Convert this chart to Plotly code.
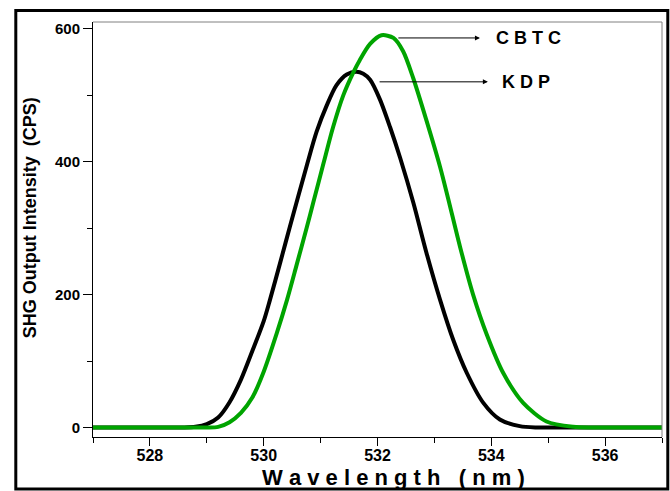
import plotly.graph_objects as go

# ---- data ----
kdp_x = [527.0, 528.0, 528.6, 528.8, 529.0, 529.2, 529.4, 529.6, 529.8, 530.0,
         530.11, 530.29, 530.46, 530.76, 530.93, 531.11, 531.28, 531.46, 531.63, 531.75,
         531.87, 532.04, 532.22, 532.40, 532.63, 532.86, 533.10, 533.33, 533.57, 533.86,
         534.15, 534.50, 534.8, 535.2, 537.0]
kdp_y = [0, 0, 0, 1, 5, 15, 38, 72, 115, 160,
         192, 248, 302, 395, 445, 485, 515, 531, 535, 532,
         523, 494, 452, 405, 338, 263, 192, 132, 82, 37,
         12, 2, 0, 0, 0]

cbtc_x = [527.0, 528.5, 529.0, 529.2, 529.4, 529.6, 529.8, 530.0, 530.23, 530.41,
          530.58, 530.76, 530.87, 531.05, 531.22, 531.40, 531.58, 531.69, 531.87, 532.07,
          532.28, 532.45, 532.63, 532.86, 533.10, 533.24, 533.45, 533.68, 533.92, 534.21,
          534.56, 534.97, 535.44, 535.8, 537.0]
cbtc_y = [0, 0, 0, 1, 8, 22, 45, 84, 142, 192,
          245, 302, 338, 397, 452, 500, 535, 553, 577, 590,
          586, 566, 525, 462, 392, 345, 272, 200, 140, 82,
          37, 9, 1, 0, 0]

x_ticks = [528, 530, 532, 534, 536]
y_ticks = [0, 200, 400, 600]

FONT = "Liberation Sans, Arial, sans-serif"
W, H = 670, 491
L, R, T, B = 92.7, 661.7, 22, 437   # plot area in pixels

def px(xp):
    return (xp - L) / (R - L)

def py(yp):
    return (B - yp) / (B - T)

fig = go.Figure()
fig.add_trace(go.Scatter(x=kdp_x, y=kdp_y, mode="lines", name="KDP",
                         line=dict(color="#000000", width=4, shape="spline", smoothing=0.8)))
fig.add_trace(go.Scatter(x=cbtc_x, y=cbtc_y, mode="lines", name="CBTC",
                         line=dict(color="#00a400", width=4, shape="spline", smoothing=0.8)))

fig.update_xaxes(range=[527, 537], tickvals=x_ticks, ticks="outside", ticklen=8, tickwidth=1,
                 tickcolor="black", showline=True, linecolor="black", linewidth=1,
                 showgrid=False, zeroline=False, ticklabelstandoff=-4,
                 tickfont=dict(family=FONT, size=16, color="black", weight="bold"),
                 minor=dict(tickvals=[527, 529, 531, 533, 535, 537], ticks="outside",
                            ticklen=5, tickcolor="black", showgrid=False))
fig.update_yaxes(range=[-14.3, 610], tickvals=y_ticks, ticks="outside", ticklen=9, tickwidth=1,
                 tickcolor="black", showline=True, linecolor="black", linewidth=1,
                 showgrid=False, zeroline=False,
                 tickfont=dict(family=FONT, size=15, color="black", weight="bold"),
                 minor=dict(tickvals=[100, 300, 500], ticks="outside", ticklen=5,
                            tickcolor="black", showgrid=False))

shapes = [
    dict(type="line", xref="paper", yref="paper", x0=0, x1=1, y0=1, y1=1,
         line=dict(color="#808080", width=1)),
    dict(type="line", xref="paper", yref="paper", x0=1, x1=1, y0=0, y1=1,
         line=dict(color="#808080", width=1)),
    dict(type="rect", xref="paper", yref="paper", x0=px(15.5), x1=px(667.5), y0=py(10.5), y1=py(489),
         line=dict(color="black", width=3)),
]

bold = dict(family=FONT, size=18, color="black", weight="bold")
annotations = [
    dict(x=533.80, y=586, ax=532.34, ay=586, xref="x", yref="y", axref="x", ayref="y",
         text="", showarrow=True, arrowhead=2, arrowsize=1, arrowwidth=1, arrowcolor="black"),
    dict(x=533.94, y=520, ax=532.01, ay=520, xref="x", yref="y", axref="x", ayref="y",
         text="", showarrow=True, arrowhead=2, arrowsize=1, arrowwidth=1, arrowcolor="black"),
    dict(x=534.05, y=586, xref="x", yref="y", text="C B T C", showarrow=False,
         xanchor="left", yanchor="middle", font=bold),
    dict(x=534.15, y=520, xref="x", yref="y", text="K D P", showarrow=False,
         xanchor="left", yanchor="middle", font=bold),
    dict(x=px(393), y=py(477), xref="paper", yref="paper",
         text="W a v e l e n g t h   ( n m )", showarrow=False,
         xanchor="center", yanchor="middle",
         font=dict(family=FONT, size=22, color="black", weight="bold")),
    dict(x=px(30), y=py(218), xref="paper", yref="paper", textangle=-90,
         text="SHG Output Intensity  (CPS)", showarrow=False,
         xanchor="center", yanchor="middle",
         font=dict(family=FONT, size=18, color="black", weight="bold")),
]

fig.update_layout(width=W, height=H, margin=dict(l=L, r=W - R, t=T, b=H - B),
                  paper_bgcolor="white", plot_bgcolor="white", showlegend=False,
                  shapes=shapes, annotations=annotations)

fig.write_html("out.html")
